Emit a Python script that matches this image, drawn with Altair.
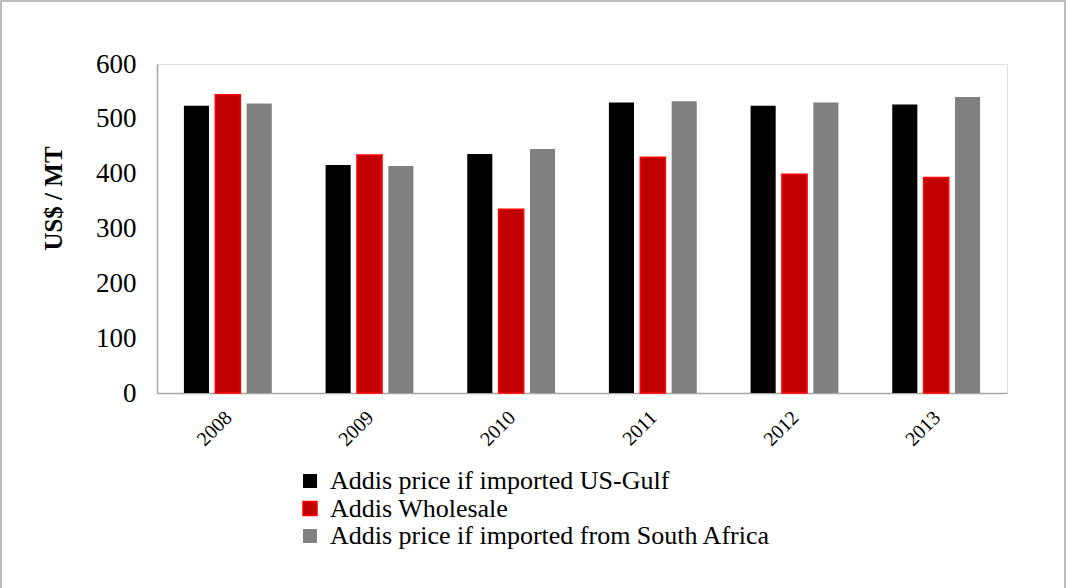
import altair as alt
import pandas as pd

years = ["2008", "2009", "2010", "2011", "2012", "2013"]
series_names = [
    "Addis price if imported US-Gulf",
    "Addis Wholesale",
    "Addis price if imported from South Africa",
]
us_gulf = [524, 416, 436, 530, 524, 526]
wholesale = [544, 434, 335, 430, 399, 393]
south_africa = [528, 414, 445, 532, 530, 540]

fills = ["#000000", "#C00000", "#808080"]
strokes = ["transparent", "#FF0000", "transparent"]

rows = []
for vals, name in zip([us_gulf, wholesale, south_africa], series_names):
    for y, v in zip(years, vals):
        rows.append({"year": y, "series": name, "value": v})
df = pd.DataFrame(rows)

FONT = "Liberation Serif"

legend_cfg = alt.Legend(
    title=None,
    orient="none",
    legendX=140,
    legendY=404,
    labelFont=FONT,
    labelFontSize=26,
    labelColor="#000000",
    symbolType="square",
    symbolSize=196,
    symbolStrokeWidth=1.5,
    rowPadding=1.5,
    labelOffset=7,
    labelLimit=700,
)

bars = alt.Chart(df).mark_bar(strokeWidth=1.5).encode(
    x=alt.X(
        "year:N",
        sort=years,
        title=None,
        scale=alt.Scale(paddingInner=0.38, paddingOuter=0.19),
        axis=alt.Axis(
            labelAngle=-45,
            labelFont=FONT,
            labelFontSize=20,
            labelColor="#000000",
            ticks=False,
            labelPadding=14,
            labelOffset=-6,
            domainColor="#A6A6A6",
            domainWidth=1.5,
        ),
    ),
    xOffset=alt.XOffset("series:N", sort=series_names, scale=alt.Scale(paddingInner=0.2)),
    y=alt.Y(
        "value:Q",
        title="US$ / MT",
        scale=alt.Scale(domain=[0, 600]),
        axis=alt.Axis(
            values=[0, 100, 200, 300, 400, 500, 600],
            grid=False,
            ticks=False,
            labelFont=FONT,
            labelFontSize=27,
            labelColor="#000000",
            labelPadding=21,
            titleFont=FONT,
            titleFontSize=25,
            titleFontWeight="bold",
            titleColor="#000000",
            titleAngle=270,
            titleAlign="center",
            titleBaseline="middle",
            titleX=-104,
            titleY=134,
            domainColor="#A6A6A6",
            domainWidth=1.5,
        ),
    ),
    color=alt.Color(
        "series:N",
        sort=series_names,
        scale=alt.Scale(domain=series_names, range=fills),
        legend=legend_cfg,
    ),
    stroke=alt.Stroke(
        "series:N",
        sort=series_names,
        scale=alt.Scale(domain=series_names, range=strokes),
        legend=legend_cfg,
    ),
)

frame = alt.Chart(pd.DataFrame({"a": [0]})).mark_rect(
    fill="transparent", stroke="#A6A6A6", strokeWidth=1.5, clip=False
).encode(
    x=alt.value(-156), x2=alt.value(908), y=alt.value(-63), y2=alt.value(527)
)

chart = alt.layer(frame, bars).properties(
    width=850,
    height=329,
    autosize=alt.AutoSizeParams(type="none"),
    padding={"left": 157, "top": 64, "right": 59, "bottom": 195},
).configure_view(stroke=None).configure(background="#FFFFFF")

chart.save("out.html", embed_options={"renderer": "svg", "actions": False})
